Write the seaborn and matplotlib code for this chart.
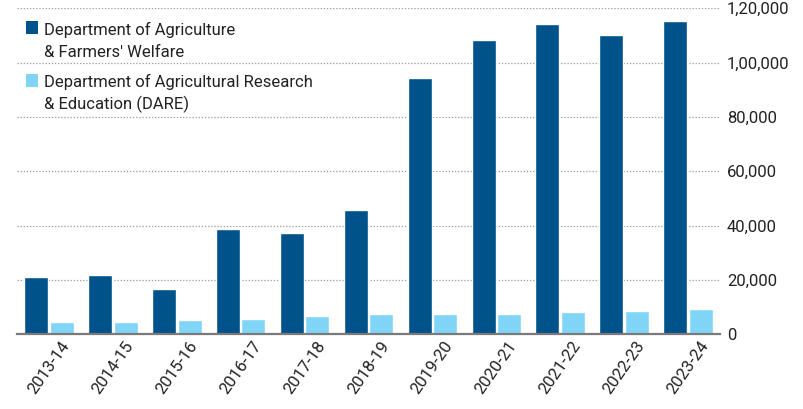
import numpy as np
import pandas as pd
import matplotlib
matplotlib.use("Agg")
import matplotlib.pyplot as plt
import seaborn as sns
from matplotlib.patches import Rectangle

# ---- data ----
years = ["2013-14", "2014-15", "2015-16", "2016-17", "2017-18", "2018-19",
         "2019-20", "2020-21", "2021-22", "2022-23", "2023-24"]
dafw = [21100, 21800, 16700, 38700, 37300, 45700, 94200, 108200, 114400, 110000, 115500]
dare = [4500, 4500, 5300, 5600, 6700, 7500, 7500, 7500, 8200, 8600, 9300]
series_names = ["Department of Agriculture\n& Farmers' Welfare",
                "Department of Agricultural Research\n& Education (DARE)"]
colors = ["#00538a", "#80d5f7"]
yticks = [0, 20000, 40000, 60000, 80000, 100000, 120000]
ytick_labels = ["0", "20,000", "40,000", "60,000", "80,000", "1,00,000", "1,20,000"]

df = pd.DataFrame({
    "year": years * 2,
    "value": dafw + dare,
    "series": [series_names[0]] * len(years) + [series_names[1]] * len(years),
})

sns.set_theme(style="white")
plt.rcParams['font.family'] = ['Roboto', 'DejaVu Sans']
text_color = "#222222"

W, H = 804, 409
fig = plt.figure(figsize=(W / 100, H / 100), dpi=100)
ax_left, ax_right, ax_top, ax_bottom = 17, 720, 8.3, 334.3
ax = fig.add_axes([ax_left / W, (H - ax_bottom) / H, (ax_right - ax_left) / W, (ax_bottom - ax_top) / H])

sns.barplot(data=df, x="year", y="value", hue="series", hue_order=series_names,
            palette=colors, width=0.8, gap=0.06, saturation=1, errorbar=None,
            legend=False, ax=ax, zorder=2)

ax.set_xlim(-0.5, len(years) - 0.5)
ax.set_ylim(0, 120000)
ax.set_yticks(yticks)
ax.set_yticklabels(ytick_labels)
ax.yaxis.tick_right()
ax.set_xlabel("")
ax.set_ylabel("")
ax.set_axisbelow(True)
ax.yaxis.grid(True, linestyle=(0, (1, 1.5)), color="#9a9a9a", linewidth=0.9)
ax.xaxis.grid(False)
for s in ["top", "left", "right"]:
    ax.spines[s].set_visible(False)
ax.spines["bottom"].set_color("#7a7a7a")
ax.spines["bottom"].set_linewidth(1.6)
ax.spines["bottom"].set_zorder(3)
ax.tick_params(axis="y", length=0, pad=5, labelsize=12, labelcolor=text_color)
ax.tick_params(axis="x", length=0, pad=3, labelsize=12, labelcolor=text_color, rotation=55)
ax.patch.set_alpha(0)

# ---- legend (drawn manually so the swatch sits beside the first line) ----
def fx(px):
    return px / W

def fy(py):
    return (H - py) / H

entries = [(21, 35), (74, 87.3)]
for (sq_top, base), name, col in zip(entries, series_names, colors):
    fig.patches.append(Rectangle((fx(26), fy(sq_top + 12.5)), fx(12.5), 12.5 / H,
                                 transform=fig.transFigure, facecolor=col, edgecolor="none"))
    for i, line in enumerate(name.split("\n")):
        fig.text(fx(44), fy(base + 22.3 * i), line, fontsize=12, color=text_color,
                 ha="left", va="baseline")

fig.savefig("out.png", dpi=100)
